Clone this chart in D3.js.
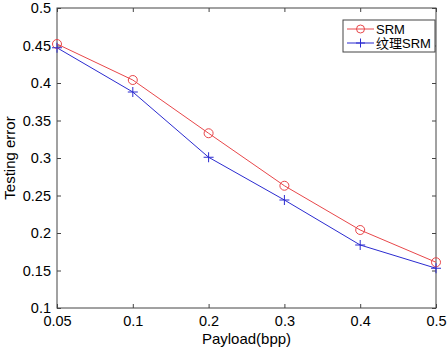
<!DOCTYPE html>
<html><head><meta charset="utf-8">
<script src="https://cdn.jsdelivr.net/npm/d3@7"></script>
<style>body{margin:0;background:#fff}svg{display:block}text{font-family:"Liberation Sans",Arial,sans-serif}</style>
</head><body><svg id="c" width="448" height="350"></svg>
<script>
const categories = ["0.05","0.1","0.2","0.3","0.4","0.5"];
const srm = [0.452,0.404,0.333,0.263,0.204,0.161];
const texSrm = [0.447,0.388,0.301,0.244,0.184,0.153];
const yTicks = [0.1,0.15,0.2,0.25,0.3,0.35,0.4,0.45,0.5];
const seriesNames = ["SRM","纹理SRM"];

const svg = d3.select("#c");
const L=57,R=436,T=8,B=308;
const x = d3.scalePoint().domain(categories).range([L,R]);
const y = d3.scaleLinear().domain([0.1,0.5]).range([B,T]);
const axisColor="#444";
svg.append("rect").attr("x",L).attr("y",T).attr("width",R-L).attr("height",B-T).attr("fill","none").attr("stroke",axisColor).attr("stroke-width",1);
const fmt = d=>String(+d.toFixed(2));
const gx = svg.append("g").attr("transform",`translate(0,${B})`).call(d3.axisBottom(x).tickSizeInner(-4).tickSizeOuter(0).tickPadding(8));
const gxt = svg.append("g").attr("transform",`translate(0,${T})`).call(d3.axisTop(x).tickSizeInner(-4).tickSizeOuter(0).tickFormat(""));
const gy = svg.append("g").attr("transform",`translate(${L},0)`).call(d3.axisLeft(y).tickValues(yTicks).tickFormat(fmt).tickSizeInner(-4).tickSizeOuter(0).tickPadding(6));
const gyr = svg.append("g").attr("transform",`translate(${R},0)`).call(d3.axisRight(y).tickValues(yTicks).tickSizeInner(-4).tickSizeOuter(0).tickFormat(""));
[gx,gxt,gy,gyr].forEach(g=>{g.select(".domain").remove();g.selectAll("line").attr("stroke",axisColor);g.selectAll("text").attr("fill","#000").style("font-size","14.5px").style("font-family","'Liberation Sans',Arial,sans-serif");});

const red="#e8474a", blue="#2b2bd0";
const line = d3.line().x((d,i)=>x(categories[i])).y(d=>y(d));
svg.append("path").datum(srm).attr("d",line).attr("fill","none").attr("stroke",red).attr("stroke-width",1);
svg.append("path").datum(texSrm).attr("d",line).attr("fill","none").attr("stroke",blue).attr("stroke-width",1);
svg.selectAll(".o").data(srm).join("circle").attr("cx",(d,i)=>x(categories[i])).attr("cy",d=>y(d)).attr("r",4.5).attr("fill","none").attr("stroke",red);
const plus=(g,cx,cy,s,c)=>{g.append("line").attr("x1",cx-s).attr("x2",cx+s).attr("y1",cy).attr("y2",cy).attr("stroke",c);g.append("line").attr("x1",cx).attr("x2",cx).attr("y1",cy-s).attr("y2",cy+s).attr("stroke",c);};
const pg=svg.append("g");
texSrm.forEach((d,i)=>plus(pg,x(categories[i]),y(d),5,blue));

// legend
const lg=svg.append("g");
lg.append("rect").attr("x",343).attr("y",20).attr("width",92).attr("height",32).attr("fill","#fff").attr("stroke",axisColor);
const ly=[29,43];
lg.append("line").attr("x1",347).attr("x2",374).attr("y1",ly[0]).attr("y2",ly[0]).attr("stroke",red);
lg.append("circle").attr("cx",360.5).attr("cy",ly[0]).attr("r",4).attr("fill","none").attr("stroke",red);
lg.append("line").attr("x1",347).attr("x2",374).attr("y1",ly[1]).attr("y2",ly[1]).attr("stroke",blue);
plus(lg,360.5,ly[1],4.5,blue);
seriesNames.forEach((n,i)=>lg.append("text").attr("x",376).attr("y",ly[i]+4.5).text(n).style("font-size","13px").style("font-family","'Liberation Sans','Noto Sans CJK SC',sans-serif"));

svg.append("text").attr("x",(L+R)/2).attr("y",344).attr("text-anchor","middle").style("font-size","15px").text("Payload(bpp)");
svg.append("text").attr("transform",`translate(15,${(T+B)/2}) rotate(-90)`).attr("text-anchor","middle").style("font-size","15px").text("Testing error");
</script></body></html>
